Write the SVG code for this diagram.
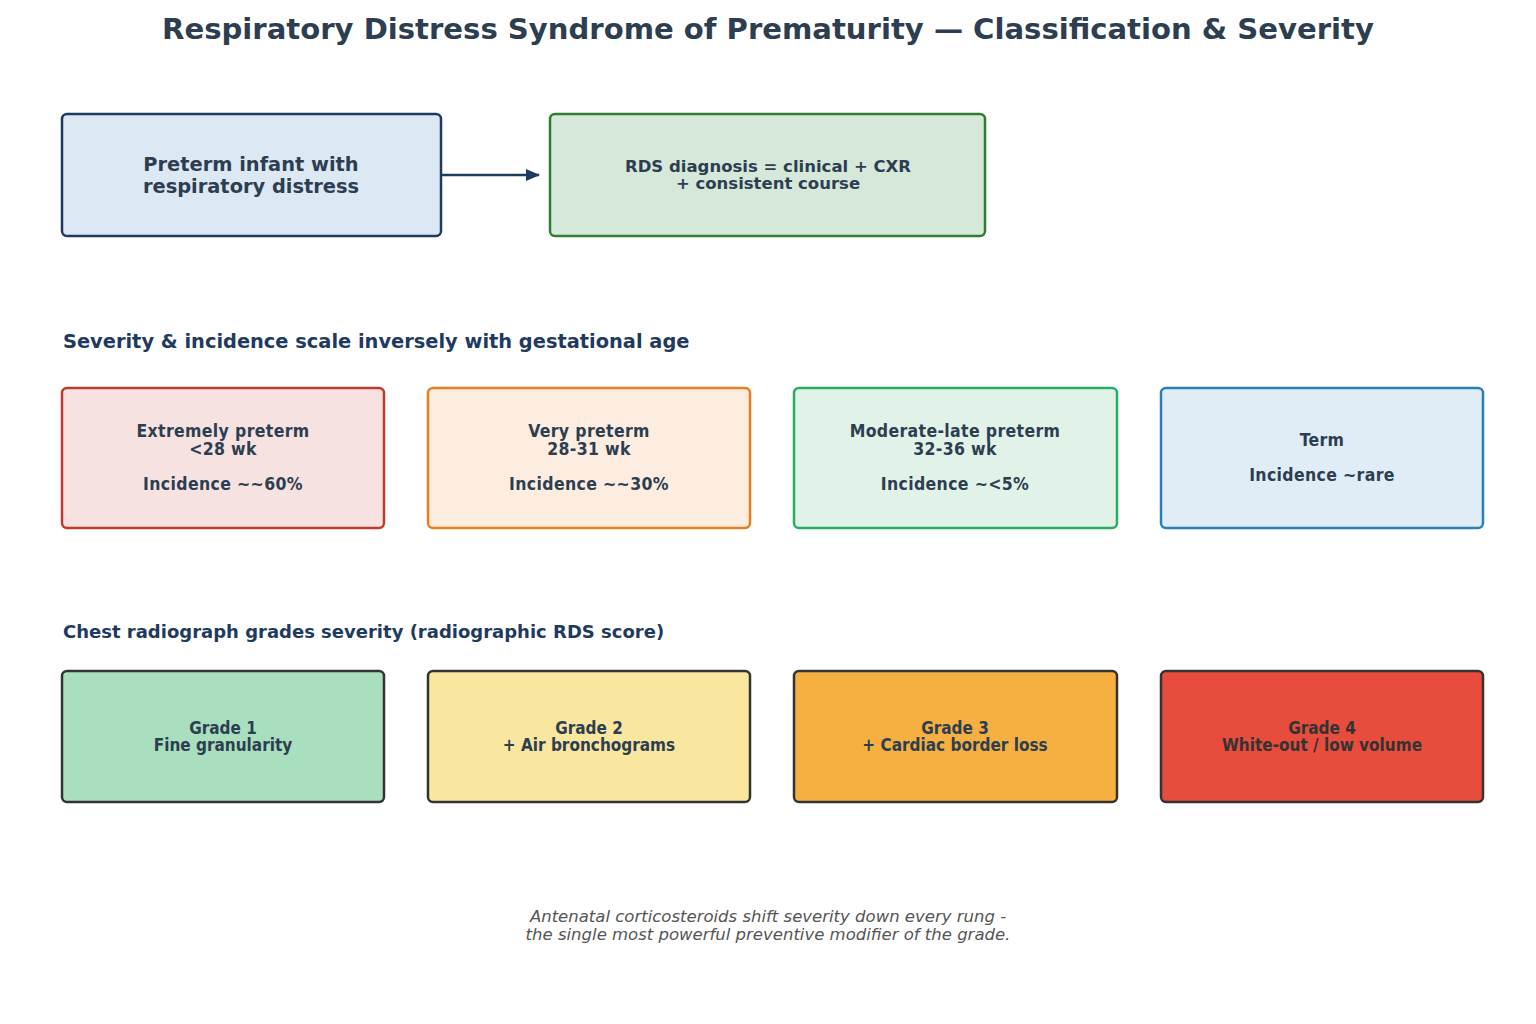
<svg xmlns="http://www.w3.org/2000/svg" width="1536" height="1024" viewBox="0 0 1536 1024">
<defs>
<marker id="arr" markerWidth="14" markerHeight="12" refX="13" refY="6" orient="auto" markerUnits="userSpaceOnUse">
<path d="M0,0 L14,6 L0,12 Z" fill="#1f3a5f"/>
</marker>
<style>
.t{font-family:"DejaVu Sans","Liberation Sans",sans-serif;font-weight:bold;fill:#2c3e50;text-anchor:middle}
.c{font-family:"DejaVu Sans Condensed","DejaVu Sans","Liberation Sans",sans-serif;font-weight:bold;fill:#2c3e50;text-anchor:middle}
.k{font-size:17.5px;letter-spacing:0.35px}
.h{font-family:"DejaVu Sans","Liberation Sans",sans-serif;font-weight:bold;fill:#1f3a5f}
.box{stroke-width:2.5}
.g{stroke:#333333;stroke-width:2.5}
.f{font-family:"DejaVu Sans","Liberation Sans",sans-serif;font-style:italic;fill:#555555;text-anchor:middle}
</style>
</defs>
<rect width="1536" height="1024" fill="#ffffff"/>
<text class="t" x="768" y="39" font-size="29.1">Respiratory Distress Syndrome of Prematurity — Classification &amp; Severity</text>

<g id="connectors">
<line x1="441" y1="175" x2="539" y2="175" stroke="#1f3a5f" stroke-width="2.5" marker-end="url(#arr)"/>
</g>

<g id="preterm">
<rect class="box" x="62" y="114" width="379" height="122" rx="5" fill="#dce8f4" stroke="#1f3a5f"/>
<text class="t" x="251" y="171" font-size="19.4">Preterm infant with<tspan x="251" dy="22">respiratory distress</tspan></text>
</g>
<g id="diagnosis">
<rect class="box" x="550" y="114" width="435" height="122" rx="5" fill="#d5e8d9" stroke="#2e7d32"/>
<text class="t" x="768" y="172" font-size="16.5">RDS diagnosis = clinical + CXR<tspan x="768" dy="17">+ consistent course</tspan></text>
</g>

<text class="h" x="63" y="348" font-size="19.4">Severity &amp; incidence scale inversely with gestational age</text>

<g id="tier1">
<rect class="box" x="62" y="388" width="322" height="140" rx="5" fill="#f6e3e1" stroke="#c0392b"/>
<text class="c k" x="223" y="436.5">Extremely preterm<tspan x="223" dy="18.5">&lt;28 wk</tspan><tspan x="223" dy="34.5">Incidence ~~60%</tspan></text>
</g>
<g id="tier2">
<rect class="box" x="428" y="388" width="322" height="140" rx="5" fill="#fcede0" stroke="#e67e22"/>
<text class="c k" x="589" y="436.5">Very preterm<tspan x="589" dy="18.5">28-31 wk</tspan><tspan x="589" dy="34.5">Incidence ~~30%</tspan></text>
</g>
<g id="tier3">
<rect class="box" x="794" y="388" width="323" height="140" rx="5" fill="#e1f3e8" stroke="#27ae60"/>
<text class="c k" x="955" y="436.5">Moderate-late preterm<tspan x="955" dy="18.5">32-36 wk</tspan><tspan x="955" dy="34.5">Incidence ~&lt;5%</tspan></text>
</g>
<g id="tier4">
<rect class="box" x="1161" y="388" width="322" height="140" rx="5" fill="#e1edf6" stroke="#2980b9"/>
<text class="c k" x="1322" y="446">Term<tspan x="1322" dy="35">Incidence ~rare</tspan></text>
</g>

<text class="h" x="63" y="638" font-size="18">Chest radiograph grades severity (radiographic RDS score)</text>

<g id="grade1">
<rect class="g" x="62" y="671" width="322" height="131" rx="5" fill="#a9dfbf"/>
<text class="c" x="223" y="734" font-size="17">Grade 1<tspan x="223" dy="17">Fine granularity</tspan></text>
</g>
<g id="grade2">
<rect class="g" x="428" y="671" width="322" height="131" rx="5" fill="#f9e79f"/>
<text class="c" x="589" y="734" font-size="17">Grade 2<tspan x="589" dy="17">+ Air bronchograms</tspan></text>
</g>
<g id="grade3">
<rect class="g" x="794" y="671" width="323" height="131" rx="5" fill="#f5b041"/>
<text class="c" x="955" y="734" font-size="17">Grade 3<tspan x="955" dy="17">+ Cardiac border loss</tspan></text>
</g>
<g id="grade4">
<rect class="g" x="1161" y="671" width="322" height="131" rx="5" fill="#e74c3c"/>
<text class="c" x="1322" y="734" font-size="17" style="fill:#333333">Grade 4<tspan x="1322" dy="17">White-out / low volume</tspan></text>
</g>

<g id="footnote">
<text class="f" x="768" y="922" font-size="16.5">Antenatal corticosteroids shift severity down every rung -<tspan x="768" dy="18">the single most powerful preventive modifier of the grade.</tspan></text>
</g>
</svg>
